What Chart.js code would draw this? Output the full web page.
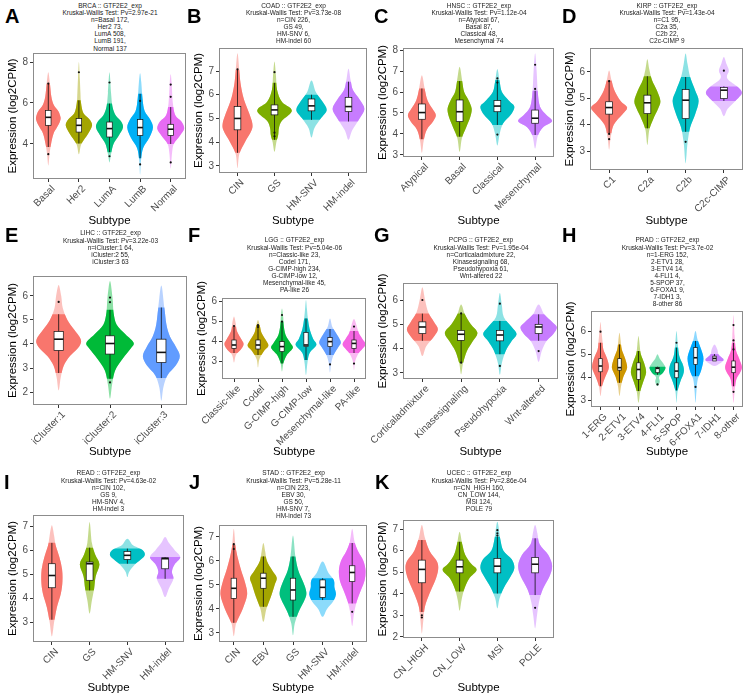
<!DOCTYPE html>
<html>
<head>
<meta charset="utf-8">
<script src="https://cdn.jsdelivr.net/npm/chart.js@4.4.0/dist/chart.umd.min.js"></script>
<style>
body { margin: 0; background: #fff; }
#page { position: relative; width: 750px; height: 698px; overflow: hidden; font-family: "Liberation Sans", Arial, sans-serif; }
.letter { position: absolute; font-weight: bold; font-size: 20px; line-height: 20px; color: #000; }
.head { position: absolute; width: 200px; font-size: 6.5px; line-height: 7.1px; color: #222; text-align: center; white-space: nowrap; }
canvas { position: absolute; }
</style>
</head>
<body>
<div id="page"></div>
<script>
'use strict';

var FONT = '"Liberation Sans", Arial, sans-serif';

// ggplot default hue palettes
var hue3 = ['#F8766D', '#00BA38', '#619CFF'];
var hue4 = ['#F8766D', '#7CAE00', '#00BFC4', '#C77CFF'];
var hue5 = ['#F8766D', '#A3A500', '#00BF7D', '#00B0F6', '#E76BF3'];
var hue6 = ['#F8766D', '#B79F00', '#00BA38', '#00BFC4', '#619CFF', '#F564E3'];
var hue8 = ['#F8766D', '#CD9600', '#7CAE00', '#00BE67', '#00BFC4', '#00A9FF', '#C77CFF', '#FF61CC'];

// shapes: [value, half width (share of category step)], boxes: [whisker lo, q1, median, q3, whisker hi]

// A  BRCA
var brcaGroups = ['Basal', 'Her2', 'LumA', 'LumB', 'Normal'];
var brcaTicks = [4, 6, 8];
var brcaShapes = [
    [[2.95, 0], [3.5, 0.04], [4, 0.09], [4.5, 0.17], [4.8, 0.28], [5.1, 0.38], [5.3, 0.4], [5.6, 0.33], [5.9, 0.18], [6.3, 0.1], [7, 0.05], [7.5, 0]],
    [[3.5, 0], [4, 0.08], [4.5, 0.3], [4.9, 0.43], [5.2, 0.35], [5.5, 0.15], [6, 0.07], [6.5, 0.05], [7.2, 0.03], [8, 0]],
    [[3.1, 0], [3.5, 0.05], [4, 0.13], [4.4, 0.3], [4.8, 0.44], [5.1, 0.38], [5.4, 0.2], [5.8, 0.1], [6.5, 0.05], [7.5, 0]],
    [[2.5, 0], [3.2, 0.03], [3.8, 0.1], [4.3, 0.3], [4.8, 0.42], [5.2, 0.33], [5.6, 0.15], [6.2, 0.08], [7, 0.04], [7.45, 0]],
    [[2.8, 0], [3.5, 0.04], [4, 0.1], [4.4, 0.3], [4.75, 0.44], [5.1, 0.35], [5.4, 0.15], [6, 0.07], [7, 0.03], [7.4, 0]]
];
var brcaBoxes = [[3.85, 4.91, 5.3, 5.64, 6.95], [4.02, 4.58, 4.91, 5.24, 6.13], [3.6, 4.34, 4.75, 5.07, 5.97], [3.3, 4.42, 4.8, 5.19, 6.45], [4.0, 4.42, 4.72, 4.96, 5.8]];
var brcaDots = [[3.5, 6.95], [7.5], [7.0, 3.4], [6.1, 3.0], [6.9, 6.3, 3.1]];

// B  COAD
var coadGroups = ['CIN', 'GS', 'HM-SNV', 'HM-indel'];
var coadTicks = [3, 4, 5, 6, 7];
var coadShapes = [
    [[2.9, 0], [3.5, 0.05], [4, 0.2], [4.5, 0.38], [4.8, 0.4], [5.2, 0.32], [5.6, 0.22], [6, 0.14], [6.5, 0.08], [7, 0.05], [7.75, 0]],
    [[3.6, 0], [4, 0.05], [4.3, 0.1], [4.6, 0.12], [4.9, 0.2], [5.2, 0.42], [5.4, 0.45], [5.7, 0.2], [6.2, 0.07], [6.8, 0.04], [7.4, 0]],
    [[4.2, 0], [4.6, 0.08], [5, 0.25], [5.35, 0.41], [5.7, 0.3], [6.1, 0.12], [6.6, 0]],
    [[4.1, 0], [4.5, 0.1], [5, 0.3], [5.4, 0.43], [5.8, 0.3], [6.2, 0.12], [6.6, 0.06], [7.1, 0]]
];
var coadBoxes = [[3.55, 4.52, 5.0, 5.5, 7.05], [4.1, 5.15, 5.36, 5.57, 6.5], [4.94, 5.32, 5.53, 5.82, 6.0], [4.87, 5.29, 5.5, 5.89, 6.55]];
var coadDots = [[7.07], [6.95, 4.4, 4.25], [], []];

// C  HNSC
var hnscGroups = ['Atypical', 'Basal', 'Classical', 'Mesenchymal'];
var hnscTicks = [3, 4, 5, 6, 7, 8];
var hnscShapes = [
    [[3.1, 0], [3.7, 0.05], [4.2, 0.13], [4.6, 0.3], [4.9, 0.37], [5.2, 0.28], [5.6, 0.15], [6.1, 0.08], [6.8, 0]],
    [[3.15, 0], [3.8, 0.06], [4.3, 0.17], [4.8, 0.28], [5.2, 0.32], [5.6, 0.24], [6, 0.12], [6.5, 0.07], [7.2, 0]],
    [[3.45, 0], [4, 0.06], [4.5, 0.15], [4.9, 0.35], [5.3, 0.45], [5.6, 0.3], [6, 0.12], [6.5, 0.06], [7.1, 0]],
    [[3.3, 0], [3.9, 0.07], [4.3, 0.2], [4.6, 0.45], [4.9, 0.3], [5.3, 0.13], [6, 0.07], [7, 0.04], [7.85, 0]]
];
var hnscBoxes = [[3.75, 4.7, 5.02, 5.43, 6.17], [3.87, 4.59, 5.06, 5.62, 6.52], [4.43, 5.06, 5.33, 5.59, 6.57], [3.95, 4.51, 4.75, 5.14, 6.06]];
var hnscDots = [[], [], [6.65, 6.45, 3.97], [7.3, 6.15]];

// D  KIRP
var kirpGroups = ['C1', 'C2a', 'C2b', 'C2c-CIMP'];
var kirpTicks = [3, 4, 5, 6];
var kirpShapes = [
    [[3.05, 0], [3.5, 0.04], [4, 0.12], [4.4, 0.35], [4.65, 0.47], [4.9, 0.3], [5.3, 0.14], [5.7, 0.06], [6.06, 0]],
    [[3.23, 0], [3.8, 0.05], [4.2, 0.15], [4.6, 0.28], [4.9, 0.34], [5.3, 0.25], [5.7, 0.12], [6.1, 0.05], [6.48, 0]],
    [[2.53, 0], [3.3, 0.05], [3.9, 0.12], [4.4, 0.25], [4.9, 0.34], [5.3, 0.25], [5.8, 0.12], [6.3, 0.05], [6.7, 0]],
    [[4.32, 0], [4.6, 0.1], [4.9, 0.3], [5.2, 0.47], [5.45, 0.35], [5.7, 0.12], [5.85, 0.08], [6.05, 0.13], [6.3, 0.07], [6.57, 0]]
];
var kirpBoxes = [[3.67, 4.4, 4.65, 4.87, 5.68], [3.86, 4.42, 4.83, 5.12, 5.84], [3.73, 4.23, 4.93, 5.33, 5.81], [4.9, 4.99, 5.31, 5.41, 5.45]];
var kirpDots = [[5.65, 3.65, 3.45], [], [3.35], [6.05]];

// E  LIHC
var lihcGroups = ['iCluster:1', 'iCluster:2', 'iCluster:3'];
var lihcTicks = [2, 3, 4, 5, 6];
var lihcShapes = [
    [[2.06, 0], [2.6, 0.04], [3.1, 0.1], [3.5, 0.22], [3.9, 0.4], [4.2, 0.43], [4.6, 0.3], [5, 0.17], [5.5, 0.08], [6, 0.05], [6.46, 0]],
    [[1.72, 0], [2.3, 0.04], [2.9, 0.1], [3.4, 0.25], [3.8, 0.4], [4.05, 0.46], [4.4, 0.3], [4.8, 0.13], [5.3, 0.07], [5.9, 0.05], [6.62, 0]],
    [[1.64, 0], [2.2, 0.04], [2.7, 0.12], [3.1, 0.28], [3.5, 0.36], [3.9, 0.28], [4.3, 0.17], [4.8, 0.1], [5.5, 0.06], [6.43, 0]]
];
var lihcBoxes = [[2.79, 3.73, 4.2, 4.52, 5.24], [2.55, 3.58, 4.02, 4.34, 5.42], [2.58, 3.23, 3.65, 4.2, 5.52]];
var lihcDots = [[5.75], [5.93, 5.74, 2.4], []];

// F  LGG
var lggGroups = ['Classic-like', 'Codel', 'G-CIMP-high', 'G-CIMP-low', 'Mesenchymal-like', 'PA-like'];
var lggTicks = [3, 4, 5, 6];
var lggShapes = [
    [[2.92, 0], [3.3, 0.08], [3.6, 0.3], [3.85, 0.4], [4.1, 0.3], [4.5, 0.12], [4.9, 0.07], [5.22, 0]],
    [[2.67, 0], [3.1, 0.06], [3.5, 0.25], [3.75, 0.43], [4.0, 0.35], [4.4, 0.15], [4.8, 0.07], [5.05, 0]],
    [[2.47, 0], [2.9, 0.06], [3.3, 0.2], [3.65, 0.45], [3.9, 0.35], [4.3, 0.15], [4.8, 0.07], [5.2, 0.05], [5.63, 0]],
    [[2.3, 0], [2.9, 0.06], [3.4, 0.15], [3.8, 0.43], [4.1, 0.3], [4.6, 0.15], [5.1, 0.08], [5.6, 0.04], [6.05, 0]],
    [[2.42, 0], [2.9, 0.05], [3.3, 0.15], [3.7, 0.35], [3.95, 0.45], [4.3, 0.3], [4.7, 0.1], [5.13, 0]],
    [[2.55, 0], [3.0, 0.05], [3.4, 0.2], [3.8, 0.47], [4.1, 0.35], [4.4, 0.2], [4.8, 0.1], [5.1, 0]]
];
var lggBoxes = [[3.4, 3.63, 3.8, 4.05, 4.72], [3.3, 3.6, 3.8, 4.05, 4.8], [2.88, 3.47, 3.72, 3.97, 4.97], [3.05, 3.72, 3.8, 4.43, 5.13], [3.3, 3.72, 3.97, 4.17, 4.6], [3.4, 3.63, 3.88, 4.05, 4.5]];
var lggDots = [[4.75], [4.8, 4.7], [5.3, 4.97], [], [2.83], [4.72, 2.87]];

// G  PCPG
var pcpgGroups = ['Corticaladmixture', 'Kinasesignaling', 'Pseudohypoxia', 'Wnt-altered'];
var pcpgTicks = [3, 4, 5, 6];
var pcpgShapes = [
    [[3.7, 0], [4.1, 0.1], [4.5, 0.3], [4.8, 0.4], [5.1, 0.3], [5.5, 0.15], [6, 0.07], [6.53, 0]],
    [[2.95, 0], [3.4, 0.05], [3.9, 0.15], [4.3, 0.3], [4.65, 0.42], [5, 0.25], [5.4, 0.1], [5.82, 0]],
    [[2.92, 0], [3.4, 0.05], [3.9, 0.15], [4.3, 0.3], [4.6, 0.43], [4.9, 0.3], [5.3, 0.1], [5.8, 0.05], [6.29, 0]],
    [[3.45, 0], [3.9, 0.08], [4.3, 0.2], [4.6, 0.38], [4.88, 0.47], [5.1, 0.35], [5.4, 0.15], [5.82, 0]]
];
var pcpgBoxes = [[4.32, 4.62, 4.89, 5.1, 5.44], [3.42, 4.34, 4.59, 4.75, 5.44], [3.77, 4.32, 4.56, 4.75, 5.14], [4.32, 4.62, 4.89, 5.0, 5.41]];
var pcpgDots = [[6.0], [5.45, 3.42], [5.85, 3.29], [3.9]];

// H  PRAD
var pradGroups = ['1-ERG', '2-ETV1', '3-ETV4', '4-FLI1', '5-SPOP', '6-FOXA1', '7-IDH1', '8-other'];
var pradTicks = [3, 4, 5, 6];
var pradShapes = [
    [[3.17, 0], [3.6, 0.08], [4, 0.25], [4.4, 0.44], [4.8, 0.35], [5.2, 0.15], [5.6, 0.1], [6, 0.05], [6.39, 0]],
    [[3.17, 0], [3.6, 0.08], [4, 0.2], [4.4, 0.4], [4.8, 0.3], [5.2, 0.12], [5.6, 0.06], [5.93, 0]],
    [[2.88, 0], [3.4, 0.1], [3.8, 0.25], [4.2, 0.4], [4.6, 0.3], [5, 0.12], [5.4, 0.06], [5.78, 0]],
    [[3.61, 0], [3.8, 0.12], [4.0, 0.08], [4.2, 0.3], [4.4, 0.42], [4.6, 0.3], [4.8, 0.12], [4.99, 0]],
    [[2.88, 0], [3.4, 0.06], [3.8, 0.2], [4.2, 0.38], [4.5, 0.35], [4.9, 0.15], [5.4, 0.07], [6.0, 0]],
    [[2.88, 0], [3.4, 0.05], [3.9, 0.12], [4.3, 0.3], [4.8, 0.42], [5.2, 0.3], [5.6, 0.12], [6.0, 0]],
    [[4.48, 0], [4.6, 0.3], [4.75, 0.48], [4.9, 0.3], [5.0, 0.2], [5.2, 0.15], [5.42, 0]],
    [[2.88, 0], [3.4, 0.06], [3.9, 0.15], [4.2, 0.35], [4.45, 0.44], [4.8, 0.3], [5.2, 0.12], [5.8, 0.06], [6.7, 0]]
];
var pradBoxes = [[3.6, 4.23, 4.48, 4.8, 5.49], [3.75, 4.3, 4.41, 4.8, 5.42], [3.39, 3.9, 4.33, 4.62, 5.13], [4.1, 4.19, 4.38, 4.41, 4.45], [3.42, 3.97, 4.26, 4.62, 5.28], [4.04, 4.55, 4.84, 5.28, 5.57], [4.7, 4.7, 4.81, 4.91, 5.0], [3.6, 4.19, 4.43, 4.7, 5.49]];
var pradDots = [[5.97], [], [], [3.68], [5.49], [3.57], [], [6.26, 5.59, 5.2, 3.36]];

// I  READ
var readGroups = ['CIN', 'GS', 'HM-SNV', 'HM-indel'];
var readTicks = [3, 4, 5, 6, 7];
var readShapes = [
    [[2.4, 0], [3, 0.06], [3.6, 0.13], [4.2, 0.24], [4.7, 0.28], [5.2, 0.27], [5.7, 0.2], [6.2, 0.1], [6.6, 0.06], [7.03, 0]],
    [[3.35, 0], [3.9, 0.06], [4.4, 0.12], [4.9, 0.16], [5.4, 0.26], [5.8, 0.15], [6.3, 0.06], [7.17, 0]],
    [[4.88, 0], [5.1, 0.05], [5.4, 0.2], [5.75, 0.45], [6.0, 0.4], [6.2, 0.15], [6.47, 0]],
    [[4.04, 0], [4.4, 0.1], [4.8, 0.22], [5.1, 0.18], [5.4, 0.25], [5.7, 0.4], [6.0, 0.25], [6.3, 0.1], [6.54, 0]]
];
var readBoxes = [[3.1, 4.43, 4.94, 5.43, 6.3], [4.32, 4.74, 5.43, 5.5, 6.1], [5.43, 5.61, 5.78, 5.94, 6.06], [4.8, 5.22, 5.64, 5.68, 5.71]];
var readDots = [[], [], [], []];

// J  STAD
var stadGroups = ['CIN', 'EBV', 'GS', 'HM-SNV', 'HM-indel'];
var stadTicks = [3, 4, 5, 6, 7];
var stadShapes = [
    [[2.86, 0], [3.4, 0.08], [4, 0.3], [4.6, 0.45], [5.1, 0.38], [5.6, 0.25], [6.1, 0.14], [6.6, 0.06], [7.34, 0]],
    [[3.46, 0], [4, 0.1], [4.5, 0.25], [5, 0.38], [5.3, 0.45], [5.6, 0.3], [6, 0.12], [6.4, 0.06], [6.75, 0]],
    [[2.9, 0], [3.4, 0.06], [3.9, 0.2], [4.4, 0.4], [4.7, 0.45], [5.1, 0.35], [5.6, 0.18], [6.2, 0.08], [7.06, 0]],
    [[3.67, 0], [4.0, 0.15], [4.3, 0.35], [4.6, 0.45], [4.9, 0.4], [5.2, 0.38], [5.5, 0.2], [5.98, 0]],
    [[3.28, 0], [3.8, 0.06], [4.3, 0.15], [4.8, 0.3], [5.2, 0.42], [5.6, 0.45], [6.0, 0.38], [6.4, 0.2], [6.8, 0.08], [7.34, 0]]
];
var stadBoxes = [[3.42, 4.44, 4.86, 5.28, 6.68], [4.09, 4.86, 5.28, 5.49, 6.19], [3.67, 4.37, 4.79, 5.28, 6.19], [4.37, 4.48, 4.9, 5.21, 5.28], [4.23, 5.14, 5.52, 5.8, 6.75]];
var stadDots = [[6.7, 6.5], [], [], [], [3.88]];

// K  UCEC
var ucecGroups = ['CN_HIGH', 'CN_LOW', 'MSI', 'POLE'];
var ucecTicks = [2, 3, 4, 5, 6, 7];
var ucecShapes = [
    [[2.16, 0], [2.8, 0.04], [3.4, 0.08], [4, 0.2], [4.6, 0.35], [5.1, 0.43], [5.5, 0.4], [6, 0.2], [6.6, 0.08], [7.19, 0]],
    [[3.21, 0], [3.7, 0.05], [4.2, 0.12], [4.7, 0.25], [5.1, 0.45], [5.4, 0.3], [5.8, 0.15], [6.3, 0.07], [6.88, 0]],
    [[3.32, 0], [3.8, 0.06], [4.3, 0.18], [4.8, 0.35], [5.2, 0.45], [5.6, 0.38], [6, 0.16], [6.5, 0.08], [7.34, 0]],
    [[2.39, 0], [3, 0.05], [3.6, 0.1], [4.2, 0.2], [4.8, 0.38], [5.3, 0.45], [5.8, 0.35], [6.3, 0.12], [6.8, 0.06], [7.19, 0]]
];
var ucecBoxes = [[3.16, 4.51, 5.13, 5.56, 6.49], [4.1, 4.97, 5.25, 5.56, 6.41], [4.01, 4.97, 5.28, 5.64, 6.64], [3.94, 4.97, 5.37, 5.68, 6.57]];
var ucecDots = [[3.0, 2.9], [], [6.95, 6.8, 6.7], [3.35]];

// layout: area = [left, top, right, bottom] of the plot box in page pixels
var panels = [
    {id: 'A', letter: [5, 6], head: 5.5, bottom: 230, area: [33, 53, 187, 179], range: [2.29, 8.44],
     title: ['BRCA :: GTF2E2_exp', 'Kruskal-Wallis Test: Pv=2.97e-21', 'n=Basal 172,', 'Her2 73,', 'LumA 508,', 'LumB 191,', 'Normal 137'],
     groups: brcaGroups, ticks: brcaTicks, shapes: brcaShapes, boxes: brcaBoxes, dots: brcaDots, colors: hue5},
    {id: 'B', letter: [187, 6], head: 5.5, bottom: 230, area: [219, 48, 368, 173], range: [2.7, 7.97],
     title: ['COAD :: GTF2E2_exp', 'Kruskal-Wallis Test: Pv=3.73e-08', 'n=CIN 226,', 'GS 49,', 'HM-SNV 6,', 'HM-indel 60'],
     groups: coadGroups, ticks: coadTicks, shapes: coadShapes, boxes: coadBoxes, dots: coadDots, colors: hue4},
    {id: 'C', letter: [374, 6], head: 5.5, bottom: 230, area: [403, 48, 555, 157], range: [2.9, 8.1],
     title: ['HNSC :: GTF2E2_exp', 'Kruskal-Wallis Test: Pv=1.12e-04', 'n=Atypical 67,', 'Basal 87,', 'Classical 48,', 'Mesenchymal 74'],
     groups: hnscGroups, ticks: hnscTicks, shapes: hnscShapes, boxes: hnscBoxes, dots: hnscDots, colors: hue4},
    {id: 'D', letter: [562, 6], head: 5.5, bottom: 230, area: [590, 48, 744, 170], range: [2.28, 6.91],
     title: ['KIRP :: GTF2E2_exp', 'Kruskal-Wallis Test: Pv=1.43e-04', 'n=C1 95,', 'C2a 35,', 'C2b 22,', 'C2c-CIMP 9'],
     groups: kirpGroups, ticks: kirpTicks, shapes: kirpShapes, boxes: kirpBoxes, dots: kirpDots, colors: hue4},
    {id: 'E', letter: [5, 225], head: 233, bottom: 461, area: [33, 276, 188, 405], range: [1.46, 6.83],
     title: ['LIHC :: GTF2E2_exp', 'Kruskal-Wallis Test: Pv=3.22e-03', 'n=iCluster:1 64,', 'iCluster:2 55,', 'iCluster:3 63'],
     groups: lihcGroups, ticks: lihcTicks, shapes: lihcShapes, boxes: lihcBoxes, dots: lihcDots, colors: hue3},
    {id: 'F', letter: [188, 225], head: 240, bottom: 461, area: [222, 298, 367, 379], range: [2.1, 6.15],
     title: ['LGG :: GTF2E2_exp', 'Kruskal-Wallis Test: Pv=5.04e-06', 'n=Classic-like 23,', 'Codel 171,', 'G-CIMP-high 234,', 'G-CIMP-low 12,', 'Mesenchymal-like 45,', 'PA-like 26'],
     groups: lggGroups, ticks: lggTicks, shapes: lggShapes, boxes: lggBoxes, dots: lggDots, colors: hue6},
    {id: 'G', letter: [374, 225], head: 240, bottom: 461, area: [403, 283, 559, 379], range: [2.75, 6.7],
     title: ['PCPG :: GTF2E2_exp', 'Kruskal-Wallis Test: Pv=1.95e-04', 'n=Corticaladmixture 22,', 'Kinasesignaling 68,', 'Pseudohypoxia 61,', 'Wnt-altered 22'],
     groups: pcpgGroups, ticks: pcpgTicks, shapes: pcpgShapes, boxes: pcpgBoxes, dots: pcpgDots, colors: hue4},
    {id: 'H', letter: [562, 225], head: 240, bottom: 461, area: [591, 311, 744, 407], range: [2.7, 6.87],
     title: ['PRAD :: GTF2E2_exp', 'Kruskal-Wallis Test: Pv=3.7e-02', 'n=1-ERG 152,', '2-ETV1 28,', '3-ETV4 14,', '4-FLI1 4,', '5-SPOP 37,', '6-FOXA1 9,', '7-IDH1 3,', '8-other 86'],
     groups: pradGroups, ticks: pradTicks, shapes: pradShapes, boxes: pradBoxes, dots: pradDots, colors: hue8},
    {id: 'I', letter: [4, 472], head: 473, bottom: 697, area: [33, 515, 184, 642], range: [2.17, 7.46],
     title: ['READ :: GTF2E2_exp', 'Kruskal-Wallis Test: Pv=4.63e-02', 'n=CIN 102,', 'GS 9,', 'HM-SNV 4,', 'HM-indel 3'],
     groups: readGroups, ticks: readTicks, shapes: readShapes, boxes: readBoxes, dots: readDots, colors: hue4},
    {id: 'J', letter: [189, 472], head: 473, bottom: 697, area: [219, 525, 368, 642], range: [2.62, 7.5],
     title: ['STAD :: GTF2E2_exp', 'Kruskal-Wallis Test: Pv=5.28e-11', 'n=CIN 223,', 'EBV 30,', 'GS 50,', 'HM-SNV 7,', 'HM-indel 73'],
     groups: stadGroups, ticks: stadTicks, shapes: stadShapes, boxes: stadBoxes, dots: stadDots, colors: hue5},
    {id: 'K', letter: [375, 472], head: 473, bottom: 697, area: [403, 520, 555, 638], range: [1.95, 7.42],
     title: ['UCEC :: GTF2E2_exp', 'Kruskal-Wallis Test: Pv=2.86e-04', 'n=CN_HIGH 160,', 'CN_LOW 144,', 'MSI 124,', 'POLE 79'],
     groups: ucecGroups, ticks: ucecTicks, shapes: ucecShapes, boxes: ucecBoxes, dots: ucecDots, colors: hue4}
];

var panelByCanvas = {};

var fade = function(hex, alpha) {
    var r = parseInt(hex.substr(1, 2), 16);
    var g = parseInt(hex.substr(3, 2), 16);
    var b = parseInt(hex.substr(5, 2), 16);
    return 'rgba(' + r + ',' + g + ',' + b + ',' + alpha + ')';
};

// closed catmull-rom curve through the outline points
function smoothPath(ctx, pts) {
    var n = pts.length;
    ctx.moveTo(pts[0][0], pts[0][1]);
    for (var i = 0; i < n; i++) {
        var p0 = pts[(i - 1 + n) % n], p1 = pts[i], p2 = pts[(i + 1) % n], p3 = pts[(i + 2) % n];
        ctx.bezierCurveTo(p1[0] + (p2[0] - p0[0]) / 6, p1[1] + (p2[1] - p0[1]) / 6,
            p2[0] - (p3[0] - p1[0]) / 6, p2[1] - (p3[1] - p1[1]) / 6, p2[0], p2[1]);
    }
    ctx.closePath();
}

var violinPlugin = {
    id: 'violins',
    beforeDatasetsDraw: function(chart) {
        var p = panelByCanvas[chart.canvas.id];
        var ctx = chart.ctx, xs = chart.scales.x, ys = chart.scales.y, area = chart.chartArea;
        var sp = (area.right - area.left) / p.groups.length;
        ctx.save();
        ctx.beginPath();
        ctx.rect(area.left, area.top, area.right - area.left, area.bottom - area.top);
        ctx.clip();
        p.shapes.forEach(function(shape, i) {
            var cx = xs.getPixelForValue(i);
            var pts = [];
            shape.forEach(function(s) {
                pts.push([cx + s[1] * sp, ys.getPixelForValue(s[0])]);
            });
            for (var k = shape.length - 2; k > 0; k--) {
                pts.push([cx - shape[k][1] * sp, ys.getPixelForValue(shape[k][0])]);
            }
            var col = p.colors[i], box = p.boxes[i];
            var yTop = ys.getPixelForValue(box[4]), yBot = ys.getPixelForValue(box[0]);

            ctx.fillStyle = fade(col, 0.45);
            ctx.beginPath();
            smoothPath(ctx, pts);
            ctx.fill();

            ctx.save();
            ctx.beginPath();
            ctx.rect(area.left, yTop, area.right - area.left, yBot - yTop);
            ctx.clip();
            ctx.fillStyle = col;
            ctx.beginPath();
            smoothPath(ctx, pts);
            ctx.fill();
            ctx.restore();

            ctx.strokeStyle = '#111';
            ctx.lineWidth = 0.8;
            ctx.beginPath();
            ctx.moveTo(cx, yBot);
            ctx.lineTo(cx, yTop);
            ctx.stroke();

            var bw = sp * 0.09;
            var q1 = ys.getPixelForValue(box[1]), md = ys.getPixelForValue(box[2]), q3 = ys.getPixelForValue(box[3]);
            ctx.fillStyle = '#fff';
            ctx.fillRect(cx - bw, q3, 2 * bw, q1 - q3);
            ctx.lineWidth = 0.7;
            ctx.strokeRect(cx - bw, q3, 2 * bw, q1 - q3);
            ctx.lineWidth = 1.6;
            ctx.beginPath();
            ctx.moveTo(cx - bw, md);
            ctx.lineTo(cx + bw, md);
            ctx.stroke();
        });
        ctx.restore();
    },
    afterDatasetsDraw: function(chart) {
        var a = chart.chartArea, ctx = chart.ctx;
        ctx.save();
        ctx.strokeStyle = '#8c8c8c';
        ctx.lineWidth = 1;
        ctx.strokeRect(a.left + 0.5, a.top + 0.5, a.right - a.left - 1, a.bottom - a.top - 1);
        ctx.restore();
    }
};

function addPanel(p) {
    var page = document.getElementById('page');
    var a = p.area;

    var letter = document.createElement('div');
    letter.className = 'letter';
    letter.textContent = p.id;
    letter.style.left = p.letter[0] + 'px';
    letter.style.top = p.letter[1] + 'px';
    page.appendChild(letter);

    var head = document.createElement('div');
    head.className = 'head';
    head.style.left = ((a[0] + a[2]) / 2 - 100) + 'px';
    head.style.top = (p.head - 3.55) + 'px';
    p.title.forEach(function(t) {
        var line = document.createElement('div');
        line.textContent = t;
        head.appendChild(line);
    });
    page.appendChild(head);

    var yw = 34, padTop = 40, padRight = 3;
    var cl = a[0] - yw, ct = a[1] - padTop;
    var cv = document.createElement('canvas');
    cv.id = 'chart-' + p.id;
    cv.width = a[2] + padRight - cl;
    cv.height = p.bottom - ct;
    cv.style.left = cl + 'px';
    cv.style.top = ct + 'px';
    page.appendChild(cv);
    panelByCanvas[cv.id] = p;

    var xh = p.bottom - a[3];
    var dotData = [];
    p.dots.forEach(function(list, i) {
        list.forEach(function(v) {
            dotData.push({x: p.groups[i], y: v});
        });
    });

    new Chart(cv.getContext('2d'), {
        type: 'line',
        data: {
            labels: p.groups,
            datasets: [{
                data: dotData,
                showLine: false,
                pointRadius: 1.1,
                pointBorderWidth: 0,
                pointBackgroundColor: '#111'
            }]
        },
        options: {
            responsive: false,
            animation: false,
            layout: {padding: {top: padTop, right: padRight, left: 0, bottom: 0}},
            plugins: {legend: {display: false}, tooltip: {enabled: false}},
            scales: {
                x: {
                    offset: true,
                    afterFit: function(s) {
                        s.height = xh;
                        s.paddingLeft = 0;
                        s.paddingRight = 0;
                    },
                    ticks: {autoSkip: false, minRotation: 45, maxRotation: 45, padding: 1, labelOffset: 5, color: '#4d4d4d', font: {family: FONT, size: 10}},
                    grid: {offset: false, drawOnChartArea: false, tickLength: 3, color: '#333'},
                    border: {display: false},
                    title: {display: true, text: 'Subtype', color: '#000', padding: {top: 0, bottom: 2}, font: {family: FONT, size: 11.5}}
                },
                y: {
                    min: p.range[0],
                    max: p.range[1],
                    afterBuildTicks: function(s) {
                        s.ticks = p.ticks.map(function(v) { return {value: v}; });
                    },
                    afterFit: function(s) {
                        s.width = yw;
                        s.paddingTop = 0;
                        s.paddingBottom = 0;
                    },
                    ticks: {padding: 2, color: '#4d4d4d', font: {family: FONT, size: 10}},
                    grid: {drawOnChartArea: false, tickLength: 3, color: '#333'},
                    border: {display: false},
                    title: {display: true, text: 'Expression (log2CPM)', color: '#000', padding: {top: 7, bottom: 0}, font: {family: FONT, size: 11.5}}
                }
            }
        },
        plugins: [violinPlugin]
    });
}

panels.forEach(addPanel);
</script>
</body>
</html>
